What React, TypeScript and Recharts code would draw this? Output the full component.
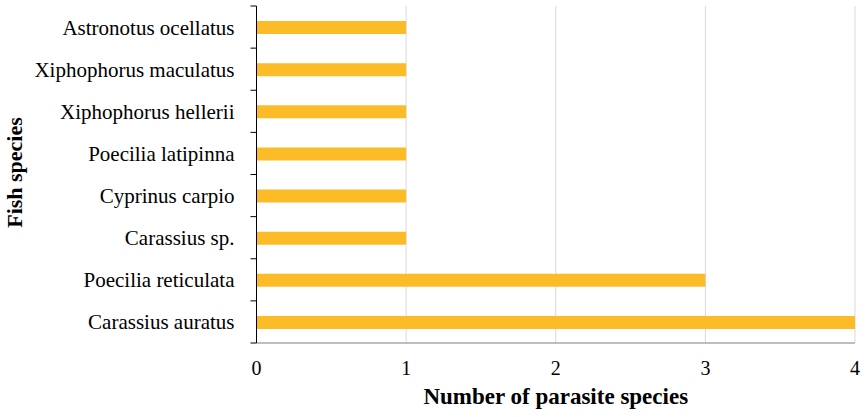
import React from "react";
import { BarChart, Bar, XAxis, YAxis, CartesianGrid } from "recharts";

const fishSpecies = [
  "Astronotus ocellatus",
  "Xiphophorus maculatus",
  "Xiphophorus hellerii",
  "Poecilia latipinna",
  "Cyprinus carpio",
  "Carassius sp.",
  "Poecilia reticulata",
  "Carassius auratus",
];
const parasiteCounts = [1, 1, 1, 1, 1, 1, 3, 4];
const xTicks = [0, 1, 2, 3, 4];

const data = fishSpecies.map((name, i) => ({ name, value: parasiteCounts[i] }));

const W = 866;
const H = 417;
const M = { top: 6, right: 11, left: 0, bottom: 0 };
const Y_AXIS_W = 256.5;
const X_AXIS_H = 74;
const BAND = (H - M.top - M.bottom - X_AXIS_H) / fishSpecies.length;
const Y_TICK_MARGIN = 22;
const FONT = "'Liberation Serif', 'Times New Roman', serif";

const YTick = (props: any) => {
  const { x, y, payload, index } = props;
  const axisX = x + Y_TICK_MARGIN;
  return (
    <g>
      <line x1={axisX - 6} x2={axisX} y1={y - BAND / 2} y2={y - BAND / 2} stroke="#000" strokeWidth={1} />
      {index === fishSpecies.length - 1 && (
        <line x1={axisX - 6} x2={axisX} y1={y + BAND / 2} y2={y + BAND / 2} stroke="#000" strokeWidth={1} />
      )}
      <text x={x} y={y} dy="0.36em" textAnchor="end" fontFamily={FONT} fontSize={21} fill="#000">
        {payload.value}
      </text>
    </g>
  );
};

export default function App() {
  return (
    <div style={{ position: "absolute", left: 0, top: 0, width: W, height: H, background: "#fff" }}>
      <BarChart width={W} height={H} data={data} layout="vertical" margin={M}>
        <CartesianGrid horizontal={false} vertical={true} stroke="#d9d9d9" strokeWidth={1} />
        <XAxis
          type="number"
          domain={[0, 4]}
          ticks={xTicks}
          height={X_AXIS_H}
          tickSize={0}
          tickMargin={18}
          axisLine={{ stroke: "#7f7f7f", strokeWidth: 1 }}
          tick={{ fontFamily: FONT, fontSize: 20, fill: "#000" }}
          label={{
            content: (p: any) => {
              const vb = p.viewBox;
              return (
                <text
                  x={vb.x + vb.width / 2}
                  y={vb.y + 61}
                  textAnchor="middle"
                  fontFamily={FONT}
                  fontWeight="bold"
                  fontSize={23}
                  fill="#000"
                >
                  Number of parasite species
                </text>
              );
            },
          }}
        />
        <YAxis
          type="category"
          dataKey="name"
          width={Y_AXIS_W}
          tickSize={0}
          tickMargin={Y_TICK_MARGIN}
          tickLine={false}
          axisLine={{ stroke: "#000", strokeWidth: 1 }}
          tick={<YTick />}
          interval={0}
          label={{
            content: (p: any) => {
              const vb = p.viewBox;
              const cy = vb.y + vb.height / 2 - 2;
              return (
                <text
                  x={22}
                  y={cy}
                  transform={`rotate(-90 22 ${cy})`}
                  textAnchor="middle"
                  fontFamily={FONT}
                  fontWeight="bold"
                  fontSize={22}
                  fill="#000"
                >
                  Fish species
                </text>
              );
            },
          }}
        />
        <Bar dataKey="value" fill="#FBBC28" barSize={13} isAnimationActive={false} />
      </BarChart>
    </div>
  );
}
